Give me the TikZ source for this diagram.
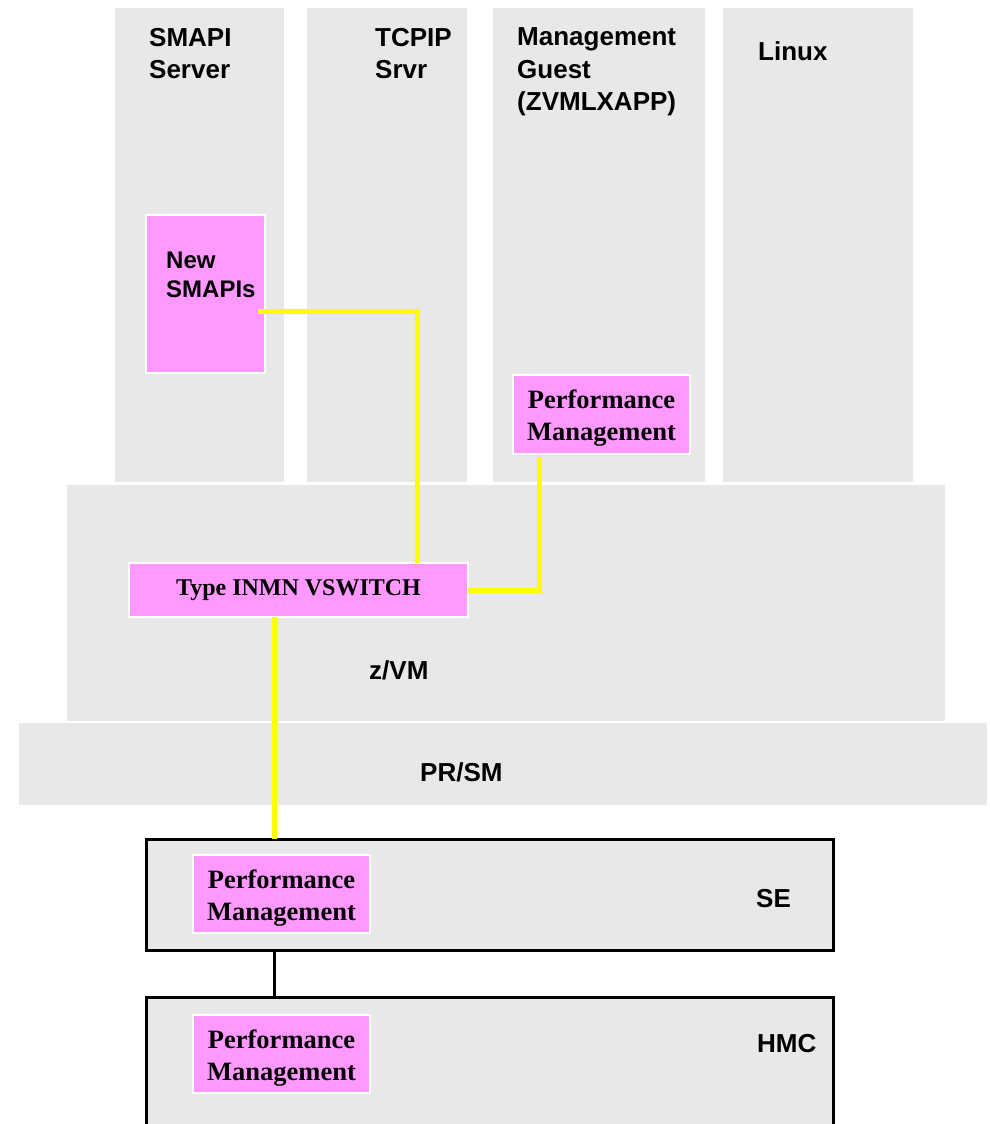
\documentclass[tikz,border=0pt]{standalone}
\usepackage{fontspec}
\setmainfont{Liberation Serif}
\setsansfont{Liberation Sans}
\definecolor{boxgrey}{RGB}{232,232,232}
\definecolor{pinkc}{RGB}{255,153,255}
\definecolor{yellowc}{RGB}{255,255,0}
\begin{document}
\begin{tikzpicture}[x=1pt,y=-1pt,
  grey/.style={fill=boxgrey,draw=none,inner sep=0pt,outer sep=0pt},
  framed/.style={fill=boxgrey,draw=black,line width=3pt,inner sep=0pt,outer sep=0pt},
  pink/.style={fill=pinkc,draw=white,line width=1.5pt,inner sep=0pt,outer sep=0pt},
  lbl/.style={font=\sffamily\bfseries\fontsize{26}{32}\selectfont,align=left,anchor=base west,inner sep=0pt},
  pmtext/.style={font=\rmfamily\bfseries\fontsize{26.5}{32}\selectfont,align=center,inner sep=0pt},
  yl/.style={draw=yellowc,line width=5pt},
]
\clip (0,0) rectangle (989,1124);
\useasboundingbox (0,0) rectangle (989,1124);
% grey columns
\node[grey,minimum width=169,minimum height=474] (c1) at (199.5,245) {};
\node[grey,minimum width=160,minimum height=474] (c2) at (387,245) {};
\node[grey,minimum width=212,minimum height=474] (c3) at (599,245) {};
\node[grey,minimum width=190,minimum height=474] (c4) at (818,245) {};
\node[grey,minimum width=878,minimum height=236] (zvm) at (506,603) {};
\node[grey,minimum width=968,minimum height=82] (prsm) at (503,764) {};
\node[framed,minimum width=687,minimum height=111] (se) at (489.5,894.5) {};
\node[framed,minimum width=687,minimum height=143] (hmc) at (489.5,1068.5) {};
% labels (base anchor = last line)
\node[lbl] (l1) at (149,78) {SMAPI\\Server};
\node[lbl] (l2) at (375,78) {TCPIP\\Srvr};
\node[lbl] (l3) at (517,110) {Management\\Guest\\(ZVMLXAPP)};
\node[lbl] (l4) at (758,60) {Linux};
\node[lbl] (l5) at (369,679) {z/VM};
\node[lbl] (l6) at (420,781) {PR/SM};
\node[lbl] (l7) at (756,907) {SE};
\node[lbl] (l8) at (757,1052) {HMC};
% pink boxes
\node[pink,minimum width=119,minimum height=158] (smapi) at (205.5,294) {};
\node[lbl,font=\sffamily\bfseries\fontsize{24}{29}\selectfont] (smapitext) at (166,297) {New\\SMAPIs};
\node[pink,minimum width=177,minimum height=79] (pmg) at (601.5,414.5) {};
\node[pmtext] (pmgt) at ([yshift=-4pt]pmg.center) {Performance\\Management};
\node[pink,font=\rmfamily\bfseries\fontsize{24}{28}\selectfont,minimum width=339,minimum height=54] (vsw) at (298.5,590) {Type INMN VSWITCH};
\node[pink,minimum width=177,minimum height=78] (pmse) at (281.5,894) {};
\node[pmtext] (pmset) at ([yshift=-4pt]pmse.center) {Performance\\Management};
\node[pink,minimum width=177,minimum height=78] (pmhmc) at (281.5,1054) {};
\node[pmtext] (pmhmct) at ([yshift=-4pt]pmhmc.center) {Performance\\Management};
% connectors
\coordinate (s1) at (258,311);
\draw[yl] (s1) -| ([xshift=118.5pt]vsw.north);
\draw[yl] ([xshift=-62.5pt,yshift=-3pt]pmg.south) |- (vsw.east);
\draw[yl] ([xshift=-24.5pt]vsw.south) -- ([xshift=-24.5pt]vsw.south |- se.north);
\draw[black,line width=3pt] ([xshift=-215.5pt]se.south) -- ([xshift=-215.5pt]se.south |- hmc.north);
\end{tikzpicture}
\end{document}
